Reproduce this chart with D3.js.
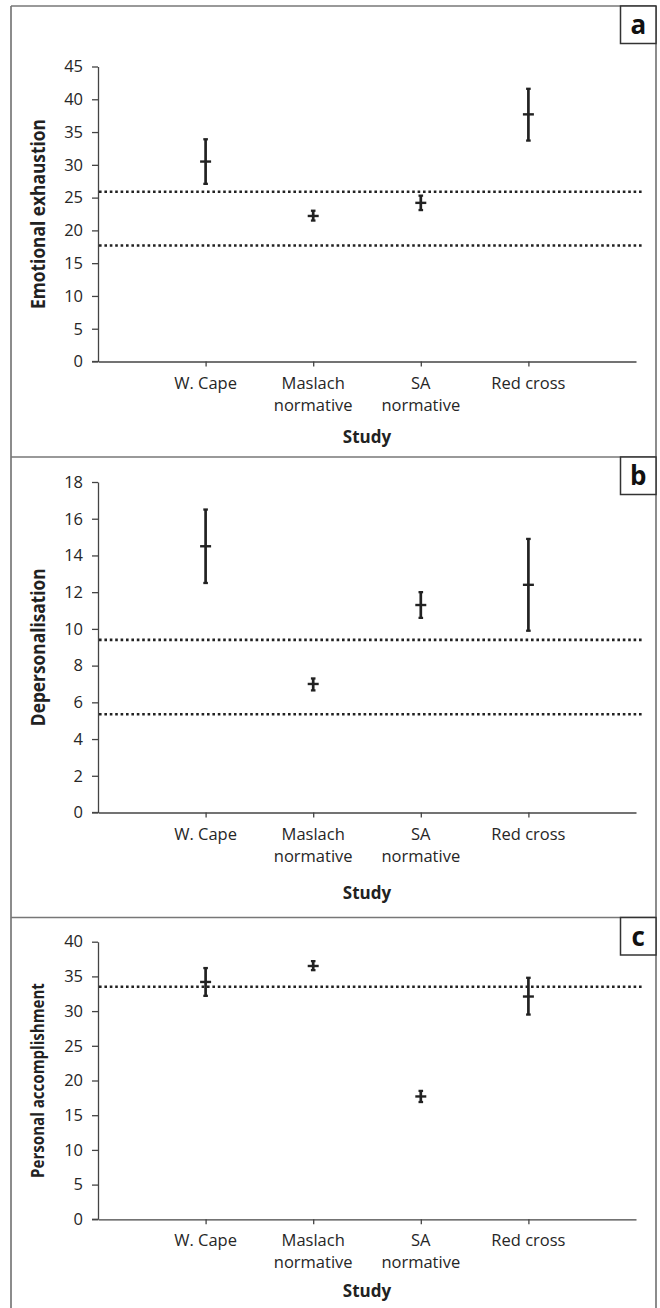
<!DOCTYPE html>
<html>
<head>
<meta charset="utf-8">
<script src="https://cdn.jsdelivr.net/npm/d3@7"></script>
<style>
  html, body { margin: 0; padding: 0; background: #fff; }
  svg { display: block; }
  text { font-family: "Open Sans", "Noto Sans", sans-serif; }
</style>
</head>
<body>
<svg id="chart" width="660" height="1308"></svg>
<script>
// ---------- data ----------
const categories = ["W. Cape", "Maslach\nnormative", "SA\nnormative", "Red cross"];

const eeMean = [30.5, 22.2, 24.2, 37.7];
const eeLow  = [27.1, 21.5, 23.1, 33.7];
const eeHigh = [33.9, 23.0, 25.3, 41.6];
const eeRef  = [25.9, 17.7];
const eeTicks = [0, 5, 10, 15, 20, 25, 30, 35, 40, 45];

const dpMean = [14.5, 7.0, 11.3, 12.4];
const dpLow  = [12.5, 6.65, 10.6, 9.9];
const dpHigh = [16.5, 7.3, 12.0, 14.9];
const dpRef  = [9.4, 5.35];
const dpTicks = [0, 2, 4, 6, 8, 10, 12, 14, 16, 18];

const paMean = [34.2, 36.5, 17.7, 32.1];
const paLow  = [32.2, 35.9, 16.9, 29.5];
const paHigh = [36.2, 37.2, 18.5, 34.8];
const paRef  = [33.5];
const paTicks = [0, 5, 10, 15, 20, 25, 30, 35, 40];

const panelLetters = ["a", "b", "c"];
const yTitles = ["Emotional exhaustion", "Depersonalisation", "Personal accomplishment"];
const xTitle = "Study";

// ---------- layout ----------
const svg = d3.select("#chart");
const frameL = 11, frameR = 656, frameT = 6;

const panels = [
  { top: 6,     y0: 361.5,  y1: 66.5,  max: 45, ticks: eeTicks, mean: eeMean, low: eeLow, high: eeHigh, ref: eeRef, titleLen: 190, titleSize: 19, studyY: 437 },
  { top: 457,   y0: 812.5,  y1: 482,   max: 18, ticks: dpTicks, mean: dpMean, low: dpLow, high: dpHigh, ref: dpRef, titleLen: 158, titleSize: 19, studyY: 893 },
  { top: 917.5, y0: 1219.3, y1: 941.7, max: 40, ticks: paTicks, mean: paMean, low: paLow, high: paHigh, ref: paRef, titleLen: 195, titleSize: 17.5, studyY: 1291 }
];

const axisX0 = 98, axisX1 = 636;
const x = d3.scaleLinear().domain([0, 5]).range([axisX0, axisX1]);

// frame
svg.append("line").attr("x1", frameL).attr("x2", frameL).attr("y1", frameT).attr("y2", 1308)
  .attr("stroke", "#666").attr("stroke-width", 1.5);
svg.append("line").attr("x1", frameR).attr("x2", frameR).attr("y1", frameT).attr("y2", 1308)
  .attr("stroke", "#666").attr("stroke-width", 1.5);
panels.forEach(p => {
  svg.append("line").attr("x1", frameL).attr("x2", frameR).attr("y1", p.top).attr("y2", p.top)
    .attr("stroke", "#777").attr("stroke-width", 1.5);
});

panels.forEach((p, pi) => {
  const g = svg.append("g");
  const y = d3.scaleLinear().domain([0, p.max]).range([p.y0, p.y1]);

  // y axis
  const yAxis = d3.axisLeft(y).tickValues(p.ticks).tickSize(6).tickPadding(9).tickSizeOuter(0);
  const ya = g.append("g").attr("transform", `translate(${axisX0},0)`).call(yAxis);
  ya.select(".domain").attr("stroke", "#444").attr("stroke-width", 1.3);
  ya.selectAll(".tick line").attr("stroke", "#444").attr("stroke-width", 1.3);
  ya.selectAll(".tick text").attr("font-size", 16.5).attr("fill", "#262626")
    .attr("font-family", "Open Sans");

  // x axis
  const xAxis = d3.axisBottom(x).tickValues([1, 2, 3, 4]).tickSize(5).tickSizeOuter(0).tickFormat("");
  const xa = g.append("g").attr("transform", `translate(0,${p.y0})`).call(xAxis);
  xa.select(".domain").attr("stroke", "#444").attr("stroke-width", 1.3);
  xa.selectAll(".tick line").attr("stroke", "#444").attr("stroke-width", 1.3);
  g.append("line").attr("x1", axisX0 - 6).attr("x2", axisX0).attr("y1", p.y0).attr("y2", p.y0)
    .attr("stroke", "#444").attr("stroke-width", 1.3);

  // category labels
  categories.forEach((c, i) => {
    const lines = c.split("\n");
    const t = g.append("text").attr("x", x(i + 1)).attr("y", p.y0 + 27)
      .attr("text-anchor", "middle").attr("font-size", 16.5).attr("fill", "#262626");
    lines.forEach((ln, li) => {
      t.append("tspan").attr("x", x(i + 1)).attr("dy", li === 0 ? 0 : 22).text(ln);
    });
  });

  // x title
  g.append("text").attr("x", (axisX0 + axisX1) / 2).attr("y", p.studyY).attr("dy", "0.35em")
    .attr("text-anchor", "middle").attr("font-size", 17).attr("font-weight", "bold")
    .attr("fill", "#222").text(xTitle);

  // y title: condensed to match the reference length
  const yt = g.append("text")
    .attr("dy", "0.35em").attr("text-anchor", "middle").attr("font-weight", "bold")
    .attr("fill", "#222").attr("font-size", p.titleSize).text(yTitles[pi]);
  const len = yt.node().getComputedTextLength();
  yt.attr("transform", `translate(38,${(p.y0 + p.y1) / 2}) rotate(-90) scale(${p.titleLen / len},1)`);

  // reference dotted lines
  p.ref.forEach(r => {
    g.append("line").attr("x1", axisX0 + 1).attr("x2", 643).attr("y1", y(r)).attr("y2", y(r))
      .attr("stroke", "#222").attr("stroke-width", 2.6).attr("stroke-dasharray", "2.6,2.8");
  });

  // error bars
  p.mean.forEach((m, i) => {
    const cx = x(i + 1);
    g.append("line").attr("x1", cx).attr("x2", cx).attr("y1", y(p.low[i])).attr("y2", y(p.high[i]))
      .attr("stroke", "#222").attr("stroke-width", 2.7);
    [p.low[i], p.high[i]].forEach(v => {
      g.append("line").attr("x1", cx - 2.3).attr("x2", cx + 2.3).attr("y1", y(v)).attr("y2", y(v))
        .attr("stroke", "#222").attr("stroke-width", 2.3);
    });
    g.append("line").attr("x1", cx - 5.5).attr("x2", cx + 5.5).attr("y1", y(m)).attr("y2", y(m))
      .attr("stroke", "#222").attr("stroke-width", 2.4);
  });

  // panel letter box
  g.append("rect").attr("x", 620.5).attr("y", p.top).attr("width", frameR - 620.5).attr("height", 37.5)
    .attr("fill", "#fff").attr("stroke", "#333").attr("stroke-width", 1.5);
  g.append("text").attr("x", (620.5 + frameR) / 2).attr("y", p.top + 19).attr("dy", "0.35em")
    .attr("text-anchor", "middle").attr("font-size", 26).attr("font-weight", "bold")
    .attr("fill", "#111").text(panelLetters[pi]);
});
</script>
</body>
</html>
